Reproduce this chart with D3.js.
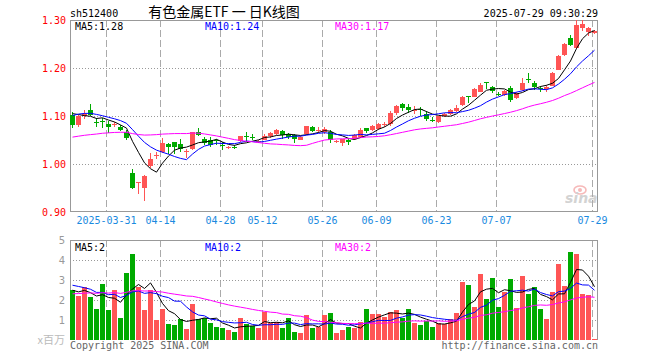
<!DOCTYPE html>
<html><head><meta charset="utf-8">
<script src="https://cdn.jsdelivr.net/npm/d3@7"></script>
<style>body{margin:0;background:#fff} svg{display:block}</style>
</head><body><svg id="c" width="660" height="360"></svg>
<script>
// ---------- data ----------
const dates = ["03-21","03-24","03-25","03-26","03-27","03-28","03-31",
"04-01","04-02","04-03","04-07","04-08","04-09","04-10","04-11","04-14","04-15","04-16","04-17","04-18","04-21","04-22","04-23","04-24","04-25","04-28","04-29","04-30",
"05-06","05-07","05-08","05-09","05-12","05-13","05-14","05-15","05-16","05-19","05-20","05-21","05-22","05-23","05-26","05-27","05-28","05-29","05-30",
"06-03","06-04","06-05","06-06","06-09","06-10","06-11","06-12","06-13","06-16","06-17","06-18","06-19","06-20","06-23","06-24","06-25","06-26","06-27","06-30",
"07-01","07-02","07-03","07-04","07-07","07-08","07-09","07-10","07-11","07-14","07-15","07-16","07-17","07-18","07-21","07-22","07-23","07-24","07-25","07-28","07-29"];
const opens = [1.102,1.082,1.101,1.112,1.088,1.090,1.084,1.081,1.078,1.067,0.982,0.960,0.950,0.995,1.016,1.025,1.042,1.045,1.042,1.025,1.031,1.067,1.053,1.050,1.049,1.040,1.034,1.036,1.047,1.058,1.057,1.047,1.051,1.058,1.062,1.069,1.062,1.060,1.050,1.062,1.077,1.068,1.066,1.067,1.047,1.044,1.050,1.053,1.057,1.074,1.071,1.073,1.082,1.083,1.107,1.124,1.118,1.110,1.115,1.104,1.092,1.088,1.099,1.105,1.110,1.123,1.141,1.140,1.151,1.170,1.161,1.146,1.144,1.159,1.137,1.154,1.177,1.168,1.158,1.156,1.163,1.196,1.227,1.263,1.241,1.283,1.276,1.273];
const highs = [1.109,1.103,1.112,1.126,1.095,1.095,1.089,1.088,1.081,1.071,0.990,0.962,0.977,1.023,1.025,1.055,1.044,1.046,1.052,1.031,1.067,1.074,1.057,1.056,1.053,1.046,1.038,1.039,1.059,1.066,1.062,1.051,1.062,1.066,1.072,1.071,1.064,1.062,1.058,1.080,1.080,1.078,1.077,1.070,1.050,1.053,1.052,1.062,1.075,1.076,1.082,1.085,1.087,1.110,1.123,1.128,1.124,1.120,1.118,1.110,1.097,1.101,1.106,1.114,1.122,1.142,1.142,1.158,1.169,1.171,1.163,1.150,1.154,1.163,1.149,1.180,1.189,1.172,1.163,1.164,1.191,1.227,1.253,1.268,1.300,1.300,1.286,1.280];
const lows = [1.076,1.077,1.094,1.100,1.078,1.074,1.065,1.078,1.068,1.050,0.947,0.938,0.923,0.991,1.010,1.022,1.020,1.020,1.026,1.012,1.030,1.058,1.040,1.035,1.040,1.030,1.031,1.031,1.045,1.046,1.050,1.044,1.050,1.055,1.060,1.053,1.052,1.044,1.049,1.060,1.067,1.065,1.063,1.044,1.044,1.038,1.040,1.051,1.055,1.064,1.069,1.071,1.078,1.080,1.103,1.111,1.106,1.104,1.101,1.090,1.087,1.086,1.097,1.102,1.108,1.120,1.128,1.139,1.149,1.156,1.148,1.142,1.141,1.130,1.135,1.152,1.168,1.155,1.150,1.149,1.162,1.195,1.226,1.246,1.239,1.278,1.267,1.270];
const closes = [1.081,1.100,1.104,1.102,1.087,1.088,1.077,1.084,1.071,1.054,0.950,0.962,0.975,1.010,1.018,1.044,1.036,1.036,1.032,1.028,1.066,1.060,1.044,1.040,1.047,1.038,1.035,1.034,1.058,1.056,1.055,1.048,1.059,1.064,1.071,1.060,1.057,1.052,1.057,1.079,1.069,1.071,1.072,1.050,1.048,1.052,1.045,1.060,1.071,1.068,1.080,1.083,1.084,1.107,1.120,1.116,1.112,1.112,1.113,1.093,1.090,1.099,1.104,1.112,1.117,1.140,1.139,1.156,1.165,1.168,1.152,1.145,1.152,1.133,1.147,1.168,1.175,1.161,1.156,1.160,1.189,1.225,1.251,1.248,1.290,1.291,1.284,1.277];
const volumes = [2.49,2.18,2.67,2.13,1.53,2.82,1.48,2.48,1.12,3.37,4.28,2.63,1.48,2.51,0.99,1.53,0.82,0.73,1.03,0.53,1.82,1.03,1.11,0.83,0.66,0.62,0.48,0.42,1.12,0.78,0.71,0.62,1.39,0.83,0.88,0.58,1.12,0.42,0.37,1.26,0.58,0.65,1.25,1.37,0.37,0.49,0.63,0.59,0.92,1.57,1.32,1.32,1.16,1.42,1.49,1.12,1.54,0.83,0.74,0.96,0.63,0.87,0.79,1.04,1.37,2.92,2.76,1.67,3.32,2.04,3.12,1.67,2.42,3.07,1.62,3.22,2.32,2.67,1.57,1.07,2.41,3.79,2.71,4.42,4.29,2.29,2.24,0.07];
// sessions before the visible window (estimated), needed for the moving averages
const prevCloses = [1.04,1.05,1.06,1.05,1.04,1.05,1.06,1.06,1.057,1.03,1.02,1.01,1.00,1.00,1.01,1.02,1.02,1.03,1.03,1.033,1.07,1.09,1.10,1.11,1.115,1.11,1.115,1.109,1.11];
const prevVolumes = [1.8,2.1,1.7,2.2,1.9,2.0,1.8,2.3,1.76,2.0,2.4,2.0,2.5,1.9,2.2,2.6,2.1,2.3,2.0,2.34,2.8,3.3,2.9,3.1,2.84,2.6,2.3,2.7,2.36];
const priceTicks = [1.30,1.20,1.10,1.00,0.90];
const volTicks = [5,4,3,2,1];
const tickDates = ["03-31","04-14","04-28","05-12","05-26","06-09","06-23","07-07","07-29"];
const tickLabels = ["2025-03-31","04-14","04-28","05-12","05-26","06-09","06-23","07-07","07-29"];
const maPeriods = [5,10,30];
const maColors = ["#000000","#0000ff","#ff00ff"];

// ---------- drawing ----------
const svg = d3.select('#c');
const n = dates.length;
const L = 70, R = 598, T = 20, B = 212, VT = 240, VB = 340;
const x = d3.scaleLinear().domain([0, n]).range([L, R]);
const y = d3.scaleLinear().domain([0.90, 1.30]).range([B, T]);
const yv = d3.scaleLinear().domain([0, 5]).range([VB, VT]);
const mono = '"DejaVu Sans Mono", "Liberation Mono", monospace';
const RED = "#ff5555", GREEN = "#00aa00";

function movingAvg(arr, prev, k) {
  const all = prev.concat(arr), off = prev.length;
  return arr.map((_, i) => { const j = i + off; return j - k + 1 < 0 ? null : d3.mean(all.slice(j - k + 1, j + 1)); });
}

const tickIdx = tickDates.map(d => dates.indexOf(d));

// watermark
const wm = svg.append('g').attr('opacity', 0.55);
wm.append('ellipse').attr('cx', 580).attr('cy', 190).attr('rx', 6).attr('ry', 4).attr('fill', 'none').attr('stroke', '#f08080').attr('stroke-width', 1.6);
wm.append('circle').attr('cx', 580).attr('cy', 190).attr('r', 2).attr('fill', '#f08080');
wm.append('text').attr('x', 565).attr('y', 203).attr('font-family', 'DejaVu Sans, sans-serif').attr('font-weight', 'bold').attr('font-style', 'italic').attr('font-size', 14).attr('fill', '#b0b0b0').text('sina');

// grids
const grid = svg.append('g').attr('shape-rendering', 'crispEdges');
tickIdx.forEach(i => {
  const gx = Math.round(x(i)) + 0.5;
  [[T, B], [VT, VB]].forEach(([a, b]) => grid.append('line').attr('x1', gx).attr('x2', gx).attr('y1', a).attr('y2', b)
    .attr('stroke', '#aaa').attr('stroke-dasharray', '7,3'));
});
priceTicks.slice(1, -1).forEach(v => grid.append('line').attr('x1', L).attr('x2', R).attr('y1', Math.round(y(v)) + 0.5).attr('y2', Math.round(y(v)) + 0.5)
  .attr('stroke', '#999').attr('stroke-dasharray', '1,2'));
volTicks.slice(1).forEach(v => grid.append('line').attr('x1', L).attr('x2', R).attr('y1', Math.round(yv(v)) + 0.5).attr('y2', Math.round(yv(v)) + 0.5)
  .attr('stroke', '#999').attr('stroke-dasharray', '1,2'));

// borders
const bd = svg.append('g').attr('shape-rendering', 'crispEdges').attr('fill', 'none').attr('stroke', '#999');
bd.append('rect').attr('x', L + 0.5).attr('y', T + 0.5).attr('width', R - L - 1).attr('height', B - T - 1);
bd.append('path').attr('d', `M${L + 0.5},${VB}V${VT + 0.5}H${R - 0.5}V${VB}`);

// candles
const cg = svg.append('g').attr('shape-rendering', 'crispEdges');
dates.forEach((d, i) => {
  const o = opens[i], c = closes[i], up = c >= o, col = up ? RED : GREEN;
  const cx = Math.round(x(i)) + 2.5;
  cg.append('line').attr('x1', cx).attr('x2', cx).attr('y1', y(highs[i])).attr('y2', y(lows[i])).attr('stroke', col);
  const top = Math.round(y(Math.max(o, c))), bot = Math.round(y(Math.min(o, c)));
  cg.append('rect').attr('x', Math.round(x(i))).attr('y', top).attr('width', 5).attr('height', Math.max(1, bot - top)).attr('fill', col);
  const vt = Math.round(yv(volumes[i]));
  cg.append('rect').attr('x', Math.round(x(i))).attr('y', vt).attr('width', 5).attr('height', Math.max(1, VB - vt)).attr('fill', col);
});

// moving averages
const priceMA = maPeriods.map(k => movingAvg(closes, prevCloses, k));
const volMA = maPeriods.map(k => movingAvg(volumes, prevVolumes, k));
maPeriods.forEach((k, m) => {
  const lp = d3.line().defined(v => v != null).x((v, i) => Math.round(x(i)) + 2.5).y(v => y(v));
  svg.append('path').attr('d', lp(priceMA[m])).attr('fill', 'none').attr('stroke', maColors[m]).attr('stroke-width', 1);
  const lv = d3.line().defined(v => v != null).x((v, i) => Math.round(x(i)) + 2.5).y(v => yv(v));
  svg.append('path').attr('d', lv(volMA[m])).attr('fill', 'none').attr('stroke', maColors[m]).attr('stroke-width', 1);
});

// axes
const ya = svg.append('g').attr('transform', `translate(${L},0)`)
  .call(d3.axisLeft(y).tickValues(priceTicks).tickSize(0).tickPadding(4).tickFormat(d3.format('.2f')));
ya.select('.domain').remove();
ya.selectAll('text').attr('font-family', mono).attr('font-size', 10).attr('fill', '#ff0000');

const vya = svg.append('g').attr('transform', `translate(${L},0)`)
  .call(d3.axisLeft(yv).tickValues(volTicks).tickSize(0).tickPadding(5).tickFormat(d3.format('d')));
vya.select('.domain').remove();
vya.selectAll('text').attr('font-family', '"DejaVu Sans", sans-serif').attr('font-size', 10).attr('fill', '#999');

const xa = svg.append('g').attr('transform', `translate(0,${B})`)
  .call(d3.axisBottom(d3.scaleLinear().domain([0, n]).range([L, R])).tickValues(tickIdx).tickSize(0).tickPadding(5)
    .tickFormat((d, j) => tickLabels[j]));
xa.select('.domain').remove();
xa.selectAll('.tick').attr('transform', d => `translate(${Math.round(x(d)) + 0.5},0)`);
xa.selectAll('text').attr('font-family', mono).attr('font-size', 10).attr('fill', '#1a8ae0');

// texts
function txt(t, tx, ty, opts = {}) {
  return svg.append('text').attr('x', tx).attr('y', ty).attr('font-family', opts.font || mono).attr('font-size', opts.size || 10)
    .attr('fill', opts.fill || '#000').attr('text-anchor', opts.anchor || 'start').text(t);
}
txt('sh512400', 70, 16.5);
txt('有色金属ETF 一 日K线图', 224, 17, { font: '"Noto Sans CJK SC", sans-serif', size: 14, anchor: 'middle' });
txt('2025-07-29 09:30:29', 598, 16.5, { anchor: 'end' });
const maX = [75, 205, 335];
maPeriods.forEach((k, m) => {
  txt(`MA${k}:${priceMA[m][n - 1].toFixed(2)}`, maX[m], 29.5, { fill: maColors[m] });
  txt(`MA${k}:${Math.floor(volMA[m][n - 1])}`, maX[m], 250.5, { fill: maColors[m] });
});
txt('x百万', 65, 344, { font: '"Noto Sans CJK SC", sans-serif', size: 11, fill: '#bbb', anchor: 'end' });
txt('Copyright 2025 SINA.COM', 70, 348.5, { fill: '#666' });
txt('http://finance.sina.com.cn', 598, 348.5, { fill: '#666', anchor: 'end' });
</script>
</body></html>
